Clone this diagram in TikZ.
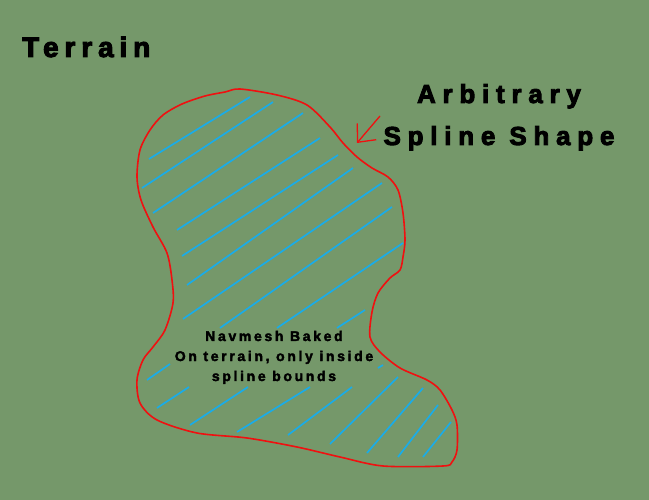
\documentclass[tikz,border=0pt]{standalone}
\usepackage{fontspec}
\setmainfont{Liberation Sans}
\usetikzlibrary{arrows.meta}

\definecolor{terraingreen}{RGB}{117,152,106}
\definecolor{splinered}{RGB}{240,16,16}
\definecolor{hatchblue}{RGB}{26,172,232}

\begin{document}
\begin{tikzpicture}[x=1pt, y=-1pt,
	outline/.style = {draw=splinered, line width=1.6pt},
	hatch/.style = {draw=hatchblue, line width=1.7pt},
	pointer/.style = {draw=splinered, line width=1.3pt, -{Straight Barb[length=14pt, width=25pt]}},
	label/.style = {inner sep=0pt, text=black}]

% terrain
\fill [terraingreen] (0, 0) rectangle (649, 500);
\node [label, anchor=base west, font=\fontsize{28}{34}\bfseries\addfontfeature{LetterSpace=21, FakeBold=3.5}] (terrain) at (22, 57) {Terrain};

% spline outline
\draw [outline] plot [smooth cycle, tension=0.5] coordinates {
	(240, 89) (277, 95) (307, 105) (330, 127) (343, 143) (357, 157) (372, 168)
	(388, 177) (398, 190) (403, 213) (405, 240) (403, 257) (400, 270) (390, 278)
	(378, 293) (372, 312) (370, 337) (380, 352) (400, 368) (427, 380) (440, 390)
	(452, 410) (457, 425) (457, 450) (452, 462) (443, 466) (383, 466) (340, 457)
	(297, 447) (247, 438) (197, 433) (157, 420) (140, 403) (137, 380) (143, 360)
	(153, 347) (165, 330) (173, 303) (172, 280) (167, 253) (153, 227) (141, 200)
	(137, 177) (140, 150) (150, 130) (163, 115) (182, 104) (205, 96) (225, 92)};

% hatching inside
\draw [hatch] (149, 159)  --  (250, 97);
\draw [hatch] (142, 188)  --  (273, 102);
\draw [hatch] (153, 213)  --  (303, 113);
\draw [hatch] (177, 230)  --  (320, 138);
\draw [hatch] (182, 256)  --  (338, 155);
\draw [hatch] (187, 285)  --  (353, 168);
\draw [hatch] (183, 319)  --  (382, 183);
\draw [hatch] (220, 328)  --  (392, 207);
\draw [hatch] (277, 328)  --  (403, 243);
\draw [hatch] (337, 328)  --  (365, 310);
\draw [hatch] (378, 368)  --  (383, 365);
\draw [hatch] (147, 380)  --  (170, 364);
\draw [hatch] (157, 408)  --  (189, 387);
\draw [hatch] (190, 425)  --  (248, 387);
\draw [hatch] (237, 432)  --  (310, 387);
\draw [hatch] (288, 435)  --  (352, 387);
\draw [hatch] (330, 444)  --  (398, 377);
\draw [hatch] (367, 453)  --  (423, 388);
\draw [hatch] (398, 457)  --  (438, 405);
\draw [hatch] (423, 457)  --  (451, 422);

% labels
\node [label, align=center, anchor=base, font=\fontsize{26}{42}\bfseries\addfontfeature{LetterSpace=26, FakeBold=3.5}] (shape) at (499, 145) {Arbitrary\\Spline Shape};
\node [label, align=center, anchor=base, font=\fontsize{14}{20}\bfseries\addfontfeature{LetterSpace=19, FakeBold=2.5}] (navmesh) at (274, 381) {Navmesh Baked\\On terrain, only inside\\spline bounds};

\coordinate (arrowtail) at (380, 116);
\coordinate (arrowtip) at (357, 143);
\draw [pointer] (arrowtail)  --  (arrowtip);

\end{tikzpicture}
\end{document}
